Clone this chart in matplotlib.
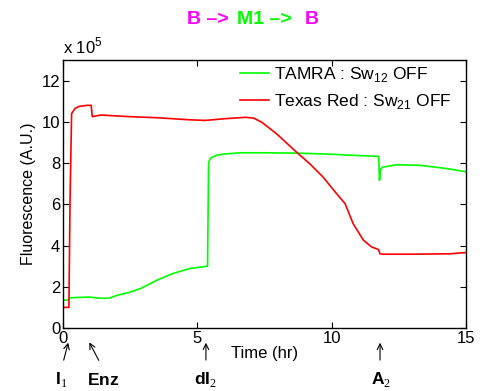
import matplotlib
matplotlib.use("Agg")
import matplotlib.pyplot as plt

plt.rcParams["font.family"] = ["Liberation Sans", "DejaVu Sans"]
plt.rcParams["mathtext.fontset"] = "custom"
plt.rcParams["mathtext.rm"] = "Liberation Serif"
plt.rcParams["mathtext.bf"] = "Liberation Sans:bold"
plt.rcParams["mathtext.sf"] = "Liberation Sans"

# fluorescence in units of 1e5, time in hours
t_green = [0, 0.2, 0.25, 0.5, 1.0, 1.3, 1.7, 2.0, 2.5, 2.9, 3.5, 4.1, 4.7, 5.1,
           5.38, 5.42, 5.5, 5.72, 6.0, 6.6, 7.5, 8.8, 9.5, 10.0, 10.7, 11.3,
           11.75, 11.78, 11.82, 11.9, 12.4, 13.3, 14.3, 15.0]
tamra = [1.35, 1.35, 1.46, 1.48, 1.50, 1.45, 1.44, 1.58, 1.74, 1.92, 2.32, 2.65,
         2.88, 2.95, 3.0, 8.05, 8.25, 8.38, 8.44, 8.5, 8.5, 8.48, 8.45, 8.43,
         8.38, 8.35, 8.32, 7.16, 7.7, 7.8, 7.92, 7.89, 7.73, 7.58]

t_red = [0, 0.22, 0.26, 0.32, 0.45, 0.6, 0.9, 1.05, 1.09, 1.4, 2.5, 3.5, 4.7,
         5.3, 6.0, 6.8, 7.1, 7.4, 7.95, 8.76, 9.2, 9.68, 10.18, 10.5, 10.8,
         11.18, 11.49, 11.74, 11.8, 11.9, 13.0, 14.4, 15.0]
texas_red = [1.0, 1.0, 6.0, 10.4, 10.65, 10.75, 10.8, 10.8, 10.25, 10.33, 10.25,
             10.2, 10.1, 10.07, 10.15, 10.22, 10.18, 9.98, 9.42, 8.45, 7.95,
             7.32, 6.52, 6.03, 5.06, 4.26, 3.93, 3.81, 3.6, 3.58, 3.58, 3.6, 3.66]

# event markers below the axis: (label, arrow tail x, arrow tip x, text x)
events = [
    (r"$\mathbf{I}_{\mathrm{1}}$", 0.0, 0.22, -0.05),
    (r"$\mathbf{Enz}$", 1.38, 0.93, 1.49),
    (r"$\mathbf{dI}_{\mathrm{2}}$", 5.32, 5.32, 5.32),
    (r"$\mathbf{A}_{\mathrm{2}}$", 11.8, 11.8, 11.85),
]

fig = plt.figure(figsize=(4.88, 3.91), dpi=100)
ax = fig.add_axes([63 / 488, 1 - 328 / 391, 403 / 488, 268 / 391])

ax.plot(t_green, tamra, color="#00ff00", lw=1.2,
        label=r"TAMRA : Sw$_{\mathsf{12}}$ OFF")
ax.plot(t_red, texas_red, color="#ff0000", lw=1.2,
        label=r"Texas Red : Sw$_{\mathsf{21}}$ OFF")

ax.set_xlim(0, 15)
ax.set_ylim(0, 13)
ax.set_xticks([0, 5, 10, 15])
ax.set_yticks(range(0, 13, 2))
ax.tick_params(direction="in", top=True, right=True, length=4,
               labelsize=12, pad=2)
for s in ax.spines.values():
    s.set_linewidth(1.0)

ax.set_xlabel("Time (hr)", fontsize=12, labelpad=0)
ax.set_ylabel("Fluorescence (A.U.)", fontsize=11.5, labelpad=4)
ax.text(0, 1.012, r"x 10$^{\mathsf{5}}$", transform=ax.transAxes,
        ha="left", va="bottom", fontsize=12)

ax.legend(loc="upper left", bbox_to_anchor=(0.43, 0.995), frameon=False,
          fontsize=12.5, handlelength=1.7, handletextpad=0.25,
          labelspacing=0.5, borderpad=0.2, borderaxespad=0)

for label, x_tail, x_tip, x_txt in events:
    ax.annotate("", xy=(x_tip, -0.58), xytext=(x_tail, -1.69),
                annotation_clip=False,
                arrowprops=dict(arrowstyle="->", lw=0.8, color="black"))
    ax.text(x_txt, -2.5, label, ha="center", va="center", fontsize=12.5,
            clip_on=False)

# coloured title
fig.text(187 / 488, 1 - 19 / 391, "B \u2013>", color="#ff00ff", fontsize=14,
         fontweight="bold", ha="left", va="center")
fig.text(237 / 488, 1 - 19 / 391, "M1 \u2013>", color="#00ff00", fontsize=14,
         fontweight="bold", ha="left", va="center")
fig.text(305 / 488, 1 - 19 / 391, "B", color="#ff00ff", fontsize=14,
         fontweight="bold", ha="left", va="center")

plt.savefig("out.png", dpi=100)
plt.close()
